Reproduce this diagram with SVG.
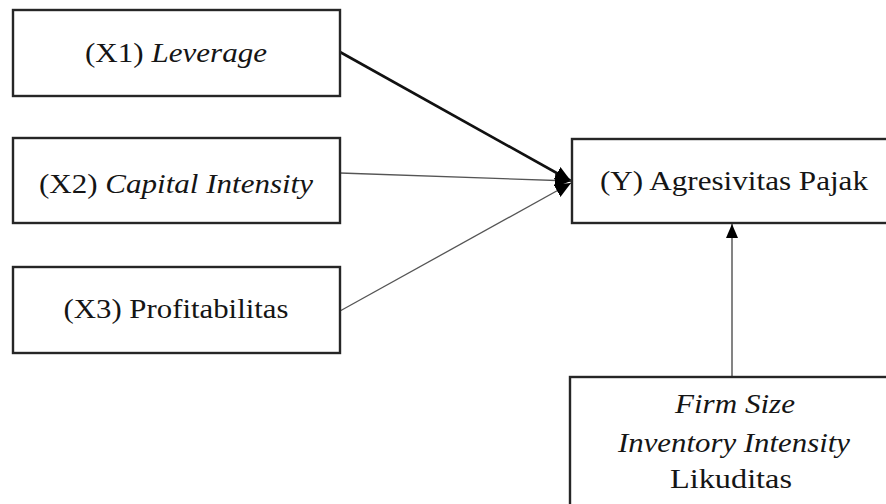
<svg xmlns="http://www.w3.org/2000/svg" width="886" height="504" viewBox="0 0 886 504">
<style>
.box{fill:#fff;stroke:#262626;stroke-width:2.4}
.t{font-family:'Liberation Serif','Times New Roman',serif;font-size:27px;fill:#151515;text-anchor:middle}
.i{font-style:italic}
.c{fill:none}
</style>
<defs>
<marker id="ah" viewBox="0 0 16 14" refX="16" refY="7" markerWidth="16" markerHeight="14" markerUnits="userSpaceOnUse" orient="auto">
<path d="M0,0 L16,7 L0,14 z" fill="#000"/>
</marker>
<marker id="ah2" viewBox="0 0 14 12" refX="14" refY="6" markerWidth="14" markerHeight="12" markerUnits="userSpaceOnUse" orient="auto">
<path d="M0,0 L14,6 L0,12 z" fill="#000"/>
</marker>
</defs>
<g id="connectors">
<line class="c" x1="340" y1="52" x2="571" y2="181" stroke-width="2.6" stroke="#111" marker-end="url(#ah)"/>
<line class="c" x1="340" y1="173" x2="571" y2="181" stroke-width="1.3" stroke="#555" marker-end="url(#ah)"/>
<line class="c" x1="340" y1="311" x2="571" y2="183" stroke-width="1.3" stroke="#555" marker-end="url(#ah)"/>
<line class="c" x1="732" y1="377" x2="732" y2="224" stroke-width="1.8" stroke="#777" marker-end="url(#ah2)"/>
</g>
<g id="x1">
<rect class="box" x="13" y="10" width="327" height="86"/>
<text class="t" x="176" y="62" textLength="182" lengthAdjust="spacingAndGlyphs">(X1) <tspan class="i">Leverage</tspan></text>
</g>
<g id="x2">
<rect class="box" x="13" y="138" width="327" height="85"/>
<text class="t" x="176" y="193" textLength="274" lengthAdjust="spacingAndGlyphs">(X2) <tspan class="i">Capital Intensity</tspan></text>
</g>
<g id="x3">
<rect class="box" x="13" y="267" width="327" height="86"/>
<text class="t" x="176" y="318" textLength="225" lengthAdjust="spacingAndGlyphs">(X3) Profitabilitas</text>
</g>
<g id="y">
<rect class="box" x="572" y="139" width="330" height="84"/>
<text class="t" x="734" y="190" textLength="268" lengthAdjust="spacingAndGlyphs">(Y) Agresivitas Pajak</text>
</g>
<g id="moderators">
<rect class="box" x="570" y="377" width="332" height="140"/>
<text class="t i" x="735" y="413" textLength="120" lengthAdjust="spacingAndGlyphs">Firm Size</text>
<text class="t i" x="734" y="452" textLength="232" lengthAdjust="spacingAndGlyphs">Inventory Intensity</text>
<text class="t" x="731" y="488" textLength="122" lengthAdjust="spacingAndGlyphs">Likuditas</text>
</g>
</svg>
